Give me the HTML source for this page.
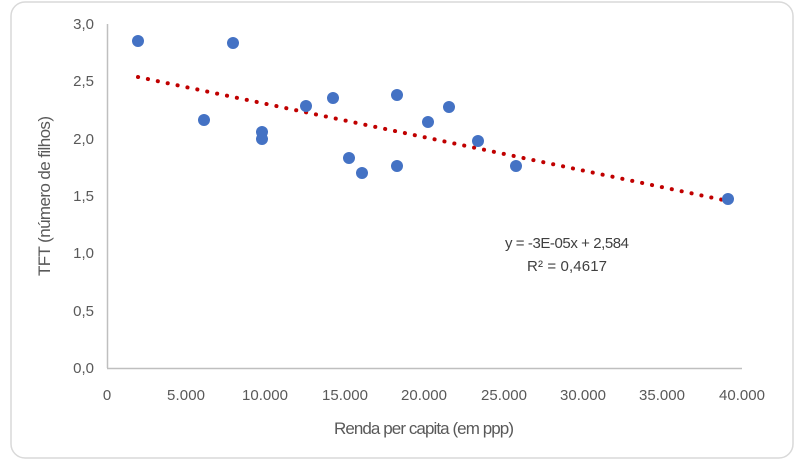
<!DOCTYPE html>
<html><head><meta charset="utf-8"><style>body{margin:0;background:#fff}</style></head><body>
<svg width="800" height="463" xmlns="http://www.w3.org/2000/svg" font-family="'Liberation Sans',sans-serif">
<rect x="11" y="2" width="782" height="456" rx="14" fill="#fff" stroke="#d9d9d9" stroke-width="1.5"/>
<line x1="107.5" y1="24" x2="107.5" y2="368" stroke="#bfbfbf" stroke-width="1.5"/>
<line x1="107" y1="368.5" x2="742" y2="368.5" stroke="#bfbfbf" stroke-width="1.5"/>
<g fill="#595959" font-size="15" text-anchor="end">
<text x="94" y="29">3,0</text><text x="94" y="86">2,5</text><text x="94" y="144">2,0</text>
<text x="94" y="201">1,5</text><text x="94" y="258">1,0</text><text x="94" y="316">0,5</text><text x="94" y="373">0,0</text>
</g>
<g fill="#595959" font-size="15" text-anchor="middle">
<text x="107" y="400">0</text><text x="186" y="400" textLength="38">5.000</text><text x="265" y="400" textLength="46">10.000</text>
<text x="345" y="400" textLength="46">15.000</text><text x="424" y="400" textLength="46">20.000</text><text x="504" y="400" textLength="46">25.000</text>
<text x="583" y="400" textLength="46">30.000</text><text x="662" y="400" textLength="46">35.000</text><text x="742" y="400" textLength="46">40.000</text>
</g>
<text x="424" y="434" fill="#595959" font-size="17" text-anchor="middle" textLength="180">Renda per capita (em ppp)</text>
<text transform="translate(50,196) rotate(-90)" fill="#595959" font-size="17" text-anchor="middle" textLength="160">TFT (número de filhos)</text>
<line x1="138" y1="77" x2="728" y2="201" stroke="#c00000" stroke-width="4" stroke-dasharray="0.1 10" stroke-linecap="round"/>
<g fill="#4472c4">
<circle cx="138" cy="41" r="6"/><circle cx="233" cy="43" r="6"/><circle cx="204" cy="120" r="6"/>
<circle cx="262" cy="132" r="6"/><circle cx="262" cy="139" r="6"/><circle cx="306" cy="106" r="6"/>
<circle cx="333" cy="98" r="6"/><circle cx="349" cy="158" r="6"/><circle cx="362" cy="173" r="6"/>
<circle cx="397" cy="95" r="6"/><circle cx="397" cy="166" r="6"/><circle cx="428" cy="122" r="6"/>
<circle cx="449" cy="107" r="6"/><circle cx="478" cy="141" r="6"/><circle cx="516" cy="166" r="6"/>
<circle cx="728" cy="199" r="6"/>
</g>
<g fill="#404040" font-size="15" text-anchor="middle">
<text x="567" y="248" textLength="124">y = -3E-05x + 2,584</text>
<text x="567" y="271" textLength="80">R² = 0,4617</text>
</g>
</svg>
</body></html>
